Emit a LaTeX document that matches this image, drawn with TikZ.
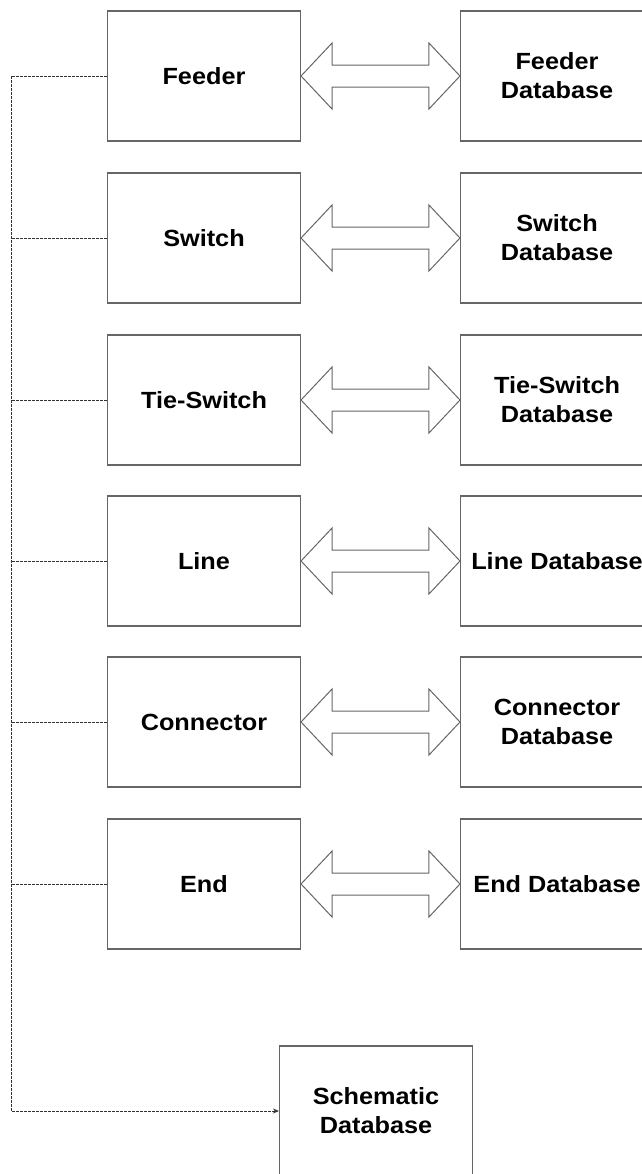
\documentclass[tikz,border=0pt]{standalone}
\usepackage{fontspec}
\setmainfont{Liberation Sans}[FakeStretch=1.08]
\usetikzlibrary{arrows.meta,calc}

% hollow double arrow between two boxes (a.east to b.west)
\newcommand{\linkarrow}[2]{%
    \draw[link] (#1.east) -- ($(#1.east)+(31,-33)$) -- ($(#1.east)+(31,-11)$)
        -- ($(#2.west)+(-31,-11)$) -- ($(#2.west)+(-31,-33)$) -- (#2.west)
        -- ($(#2.west)+(-31,33)$) -- ($(#2.west)+(-31,11)$)
        -- ($(#1.east)+(31,11)$) -- ($(#1.east)+(31,33)$) -- cycle;}

\begin{document}
\begin{tikzpicture}[
    x=1bp, y=-1bp,
    font=\fontsize{23.5}{29}\selectfont\bfseries,
    box/.style={
        rectangle, draw=black!60, line width=1.1bp,
        align=center, minimum width=193bp, minimum height=130bp,
        inner sep=2bp
    },
    link/.style={draw=black!60, line width=1bp, line join=miter},
    bus/.style={draw=black!80, line width=1bp, dash pattern=on 2.5bp off 1.5bp},
]

    \useasboundingbox (0,0) rectangle (642,1174);
    \clip (0,0) rectangle (642,1174);

    % Column x-coordinates.
    \def\xModule{204}
    \def\xData{557}

    % ---------- modules (left column) ----------
    \node[box] (feeder) at (\xModule, 76) {Feeder};
    \node[box] (switch) at (\xModule, 238) {Switch};
    \node[box] (tieswitch) at (\xModule, 400) {Tie-Switch};
    \node[box] (line) at (\xModule, 561) {Line};
    \node[box] (connector) at (\xModule, 722) {Connector};
    \node[box] (end) at (\xModule, 884) {End};

    % ---------- databases (right column) ----------
    \node[box] (feeder-db) at (\xData, 76) {Feeder\\Database};
    \node[box] (switch-db) at (\xData, 238) {Switch\\Database};
    \node[box] (tieswitch-db) at (\xData, 400) {Tie-Switch\\Database};
    \node[box] (line-db) at (\xData, 561) {Line Database};
    \node[box] (connector-db) at (\xData, 722) {Connector\\Database};
    \node[box] (end-db) at (\xData, 884) {End Database};

    \node[box] (schematic) at (376, 1111) {Schematic\\Database};

    % ---------- two-way links ----------
    \linkarrow{feeder}{feeder-db}
    \linkarrow{switch}{switch-db}
    \linkarrow{tieswitch}{tieswitch-db}
    \linkarrow{line}{line-db}
    \linkarrow{connector}{connector-db}
    \linkarrow{end}{end-db}

    % ---------- dashed bus to the schematic database ----------
    \coordinate (trunk) at (11, 76);
    \draw[bus, -{Stealth[length=6bp, width=5bp]}] (feeder.west) -- (trunk) |- (schematic.west);
    \draw[bus] (switch.west) -- (switch.west -| trunk);
    \draw[bus] (tieswitch.west) -- (tieswitch.west -| trunk);
    \draw[bus] (line.west) -- (line.west -| trunk);
    \draw[bus] (connector.west) -- (connector.west -| trunk);
    \draw[bus] (end.west) -- (end.west -| trunk);

\end{tikzpicture}
\end{document}
